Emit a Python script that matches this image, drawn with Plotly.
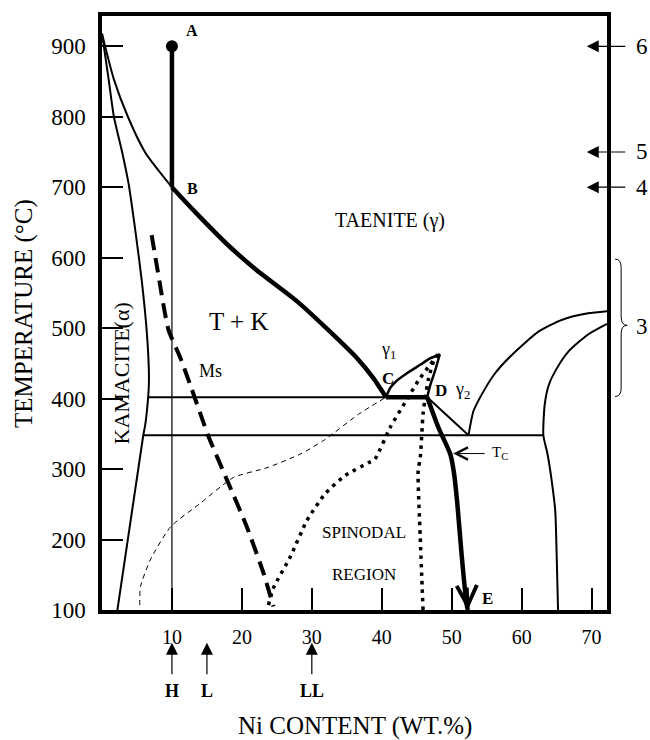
import plotly.graph_objects as go

FONT = "Liberation Serif, Times New Roman, serif"

# axis extents (wt.% Ni, degrees C)
ni_range = [0, 72.2]
t_range = [100, 943]
x_ticks = [10, 20, 30, 40, 50, 60, 70]
y_ticks = [100, 200, 300, 400, 500, 600, 700, 800, 900]

# kamacite (alpha) boundary, upper part and straight lower leg
kam_ni = [0.0, 0.95, 1.7, 2.9, 3.8, 4.8, 5.7, 6.4, 6.7, 6.7, 6.6, 6.2, 5.9]
kam_t = [918, 853, 800, 749, 705, 636, 566, 495, 440, 420, 402, 364, 348]
kam_low_ni = [5.9, 2.2]
kam_low_t = [348, 100]

# taenite (gamma) boundary: thin above B, thick from B to C
tae_hi_ni = [0.0, 1.7, 3.7, 6.2, 10.0]
tae_hi_t = [918, 853, 800, 749, 700]
tae_lo_ni = [10.0, 13.3, 18.0, 21.9, 27.9, 32.6, 36.5, 38.8, 40.6]
tae_lo_t = [700, 665, 618, 584, 538, 495, 457, 429, 402]

# cooling path of a 10 wt.% Ni metal: A -> B
path_ni = [10, 10]
path_t = [900, 700]
h_ni = [10, 10]
h_t = [700, 100]

# isotherms
iso400_ni = [6.6, 40.6]
iso400_t = [402, 402]
cd_ni = [40.6, 46.5]
cd_t = [402, 402]
iso350_ni = [5.9, 63.1]
iso350_t = [348, 348]
d_tie_ni = [46.5, 52.4]
d_tie_t = [402, 348]

# gamma1 / gamma2 miscibility loop
g1_ni = [40.6, 41.2, 42.1, 43.6, 45.5, 46.9, 48.3]
g1_t = [402, 415, 425, 436, 448, 457, 463]
g2_ni = [48.3, 47.6, 46.9, 46.5]
g2_t = [463, 439, 418, 402]

# Curie temperature line D -> E
tc_ni = [46.5, 48.1, 49.8, 50.3, 50.8, 51.4, 52.1, 52.3]
tc_t = [402, 359, 321, 296, 251, 180, 110, 100]

# ordered phase fields at high Ni
ord_top_ni = [52.4, 53.1, 54.3, 56.2, 58.6, 62.4, 65.8, 69.5, 72.2]
ord_top_t = [348, 382, 406, 436, 462, 495, 512, 521, 524]
ord_in_ni = [65.2, 65.0, 64.8, 64.3, 63.7, 63.1, 63.3, 63.9, 64.8, 66.7, 69.5, 72.2]
ord_in_t = [100, 180, 241, 283, 321, 348, 392, 420, 439, 467, 491, 506]

# martensite start (Ms)
ms_ni = [7.1, 7.9, 9.5, 11.2, 12.6, 15.2, 17.9, 20.7, 23.1, 24.5]
ms_t = [632, 585, 498, 458, 420, 347, 284, 218, 152, 105]

# metastable boundary (thin dashed)
meta_ni = [5.4, 5.5, 6.9, 9.8, 14.0, 18.8, 23.6, 28.3, 31.9, 36.7, 40.6]
meta_t = [107, 133, 171, 218, 251, 288, 302, 321, 342, 378, 402]

# spinodal limits (dotted)
sp_l_ni = [23.8, 24.5, 26.9, 29.3, 31.9, 34.8, 38.1, 39.0, 41.2, 43.3, 45.2, 46.9, 47.9]
sp_l_t = [107, 131, 175, 227, 265, 291, 309, 314, 359, 394, 425, 448, 460]
sp_r_ni = [45.9, 45.5, 45.2, 45.5, 45.9, 46.2, 46.7, 47.6, 48.0]
sp_r_t = [100, 203, 298, 316, 378, 401, 429, 458, 462]

# meteorite groups on the Ni axis
groups = ["H", "L", "LL"]
group_ni = [10, 15, 30]

# cooling-rate markers on the temperature axis
marks = ["6", "5", "4"]
mark_t = [900, 750, 700]

fig = go.Figure()


def line(x, y, width, dash="solid", spline=True, smooth=0.6):
    fig.add_trace(go.Scatter(
        x=x, y=y, mode="lines", hoverinfo="skip",
        line=dict(color="black", width=width, dash=dash,
                  shape="spline" if spline else "linear",
                  smoothing=smooth if spline else None),
    ))


THIN = 2
THICK = 4.5

line(kam_ni, kam_t, THIN)
line(kam_low_ni, kam_low_t, THIN, spline=False)
line(tae_hi_ni, tae_hi_t, THIN)
line(tae_lo_ni, tae_lo_t, THICK, smooth=0.5)
line(h_ni, h_t, 1.2, spline=False)
line(path_ni, path_t, THICK, spline=False)
line(iso400_ni, iso400_t, THIN, spline=False)
line(cd_ni, cd_t, THICK, spline=False)
line(iso350_ni, iso350_t, THIN, spline=False)
line(d_tie_ni, d_tie_t, THIN, spline=False)
line(g1_ni, g1_t, 2.5)
line(g2_ni, g2_t, 2.5)
line(tc_ni, tc_t, THICK, smooth=0.7)
line(ord_top_ni, ord_top_t, THIN)
line(ord_in_ni, ord_in_t, THIN)
line(ms_ni, ms_t, 4, dash="15px,8px")
line(meta_ni, meta_t, 1, dash="5px,4px")
line(sp_l_ni, sp_l_t, 3.5, dash="3.5px,5px")
line(sp_r_ni, sp_r_t, 3.5, dash="3.5px,5px")

# starting point A
fig.add_trace(go.Scatter(x=[path_ni[0]], y=[path_t[0]], mode="markers",
                         hoverinfo="skip",
                         marker=dict(color="black", size=12)))

ann = []


def label(x, y, text, size, bold=False, angle=0, xanchor="center", xref="x", yref="y"):
    if bold:
        text = "<b>" + text + "</b>"
    ann.append(dict(x=x, y=y, xref=xref, yref=yref, text=text, showarrow=False,
                    textangle=angle, xanchor=xanchor, yanchor="middle",
                    font=dict(family=FONT, size=size, color="black")))


label(12.9, 923, "A", 16, bold=True)
label(12.9, 698, "B", 16, bold=True)
label(40.9, 428, "C", 17, bold=True)
label(48.5, 412, "D", 17, bold=True)
label(55.1, 117, "E", 17, bold=True)
label(40.9, 468, "γ<sub>1</sub>", 18)
label(51.5, 412, "γ<sub>2</sub>", 18)
label(41.2, 653, "TAENITE (γ)", 20)
label(19.5, 509, "T + K", 25)
label(15.5, 439, "Ms", 18)
label(2.75, 436, "KAMACITE(α)", 22, angle=-90)
label(37.5, 210, "SPINODAL", 17)
label(37.5, 151, "REGION", 17)
label(55.5, 323, "T<sub>C</sub>", 15, xanchor="left")

# axis titles
label(-0.1545, 0.5, "TEMPERATURE (°C)", 25, angle=-90, xref="paper", yref="paper")
label(0.5, -0.196, "Ni CONTENT (WT.%)", 25, xref="paper", yref="paper")

# Curie arrow pointer
ann.append(dict(x=50.2, y=322, xref="x", yref="y", ax=33, ay=0, text="",
                showarrow=True, arrowhead=5, arrowsize=2.4, arrowwidth=1,
                arrowcolor="black"))
# arrowhead at E
ann.append(dict(x=tc_ni[-1], y=tc_t[-1], xref="x", yref="y", ax=-1, ay=-24, text="",
                showarrow=True, arrowhead=5, arrowsize=1.1, arrowwidth=3.6,
                arrowcolor="black"))

# temperature markers on the right
for m, t in zip(marks, mark_t):
    ann.append(dict(x=69.3, y=t, xref="x", yref="y", ax=40, ay=0, text="",
                    showarrow=True, arrowhead=2, arrowsize=2, arrowwidth=1.2,
                    arrowcolor="black"))
    label(1.069, t, m, 23, xref="paper", yref="y")
label(1.069, 503, "3", 23, xref="paper", yref="y")

# meteorite group markers below the Ni axis
for g, n in zip(groups, group_ni):
    ann.append(dict(x=n, y=-0.0553, xref="x", yref="paper", ax=0, ay=33, text="",
                    showarrow=True, arrowhead=2, arrowsize=2, arrowwidth=1.2,
                    arrowcolor="black"))
    label(n, -0.137, g, 18, bold=True, yref="paper")

# brace grouping the 400-600 C range
brace = ("M 1.016,598 Q 1.028,598 1.028,586 L 1.028,516 Q 1.028,504 1.040,504 "
         "Q 1.028,504 1.028,492 L 1.028,415 Q 1.028,403 1.016,403")
fig.add_shape(type="path", path=brace, xref="paper", yref="y",
              line=dict(color="black", width=1))

fig.update_layout(
    width=650, height=740,
    margin=dict(l=102, r=43, t=13, b=130),
    paper_bgcolor="white", plot_bgcolor="white",
    showlegend=False,
    font=dict(family=FONT, color="black"),
    annotations=ann,
)
fig.update_xaxes(range=ni_range, tickvals=x_ticks, ticks="inside", ticklen=22,
                 tickwidth=1.5, tickcolor="black", showline=True, linewidth=3.5,
                 linecolor="black", mirror=True, showgrid=False, zeroline=False,
                 tickfont=dict(family=FONT, size=20, color="black"),
                 ticklabelstandoff=6)
fig.update_yaxes(range=t_range, tickvals=y_ticks, ticks="inside", ticklen=21,
                 tickwidth=1.5, tickcolor="black", showline=True, linewidth=3.5,
                 linecolor="black", mirror=True, showgrid=False, zeroline=False,
                 tickfont=dict(family=FONT, size=23, color="black"),
                 ticklabelstandoff=8)

fig.write_html("out.html")
